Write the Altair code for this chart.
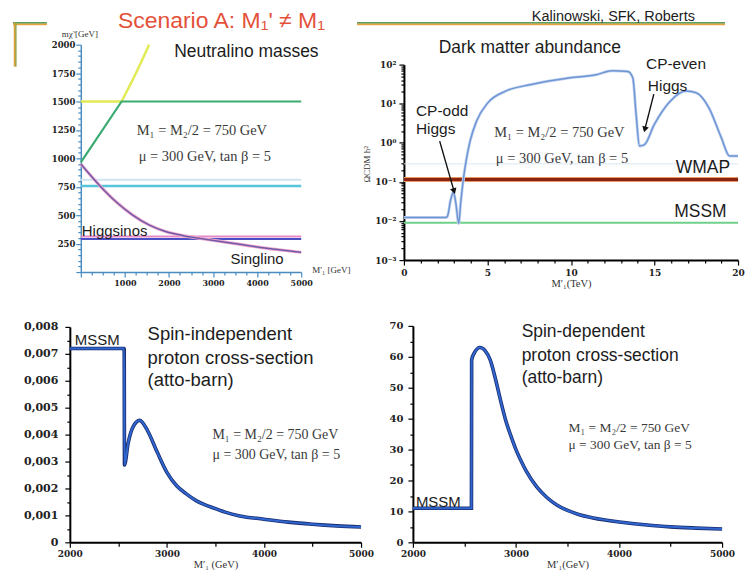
import altair as alt
import pandas as pd

# ---------------- data ----------------
# Panel 1: neutralino masses (GeV) vs M1' (GeV)
green_x = [0, 925, 5000]
green_y = [965, 1500, 1500]
yellow_x = [0, 925, 1150, 1350, 1550]
yellow_y = [1500, 1500, 1670, 1830, 2000]
cyan_x = [0, 5000]
cyan_y = [757, 757]
pale_x = [0, 5000]
pale_y = [812, 812]
hlow_x = [0, 5000]
hlow_y = [290, 290]
hhigh_x = [0, 5000]
hhigh_y = [312, 312]
singlino_x = [0, 415, 792, 1169, 1546, 1923, 2300, 2677, 3431, 4186, 4940, 5000]
singlino_y = [950, 766, 620, 503, 415, 357, 322, 298, 254, 211, 176, 173]

# Panel 2: dark matter abundance vs M1' (TeV)
dm_x = [0, 2.5, 2.6, 2.8, 2.96, 3.1, 3.28, 3.4, 3.57, 3.75, 3.96, 4.35, 5.02, 6.09, 7.63,
        9.95, 11.5, 12.46, 13.4, 13.7, 13.9, 14.1, 14.4, 14.98, 15.94, 16.9, 17.5, 18.26,
        19.0, 19.5, 20.0]
dm_y = [0.0122, 0.0122, 0.013, 0.035, 0.055, 0.03, 0.0086, 0.03, 0.129, 0.4, 1.1, 3.6, 10.5,
        21, 31, 46, 55, 70, 67, 46, 5.3, 0.83, 0.9, 2.9, 11.6, 21, 19, 7.8, 1.35, 0.46, 0.46]
wmap_x = [0, 20]
wmap_y = [0.115, 0.115]
mssm_x = [0, 20]
mssm_y = [0.009, 0.009]
faint_x = [0, 20]
faint_y = [0.29, 0.29]

# Panel 3: spin-independent cross-section vs M1' (GeV)
si_x = [2000, 2560, 2563, 2600, 2650, 2720, 2800, 2900, 3000, 3100, 3200, 3300, 3400, 3500,
        3600, 3750, 4000, 4250, 4500, 4750, 5000]
si_y = [0.0072, 0.0072, 0.00287, 0.00367, 0.00428, 0.00453, 0.00415, 0.00335, 0.0026, 0.0021,
        0.0018, 0.00155, 0.00138, 0.00125, 0.00112, 0.00098, 0.00086, 0.00075, 0.00067,
        0.00061, 0.00057]

# Panel 4: spin-dependent cross-section vs M1' (GeV)
sd_x = [2000, 2568, 2570, 2600, 2650, 2700, 2750, 2800, 2850, 2900, 2950, 3000, 3050, 3100,
        3200, 3300, 3400, 3500, 3600, 3750, 4000, 4250, 4500, 4750, 5000]
sd_y = [11, 11, 59, 61.5, 63, 62, 59, 53, 46, 39.5, 34.5, 30, 26.3, 23, 18, 14.5, 12, 10.3,
        9.1, 7.9, 6.6, 5.7, 5.0, 4.6, 4.3]

FORMULA_1 = "M\u2081 = M\u2082/2 = 750 GeV"
FORMULA_2 = "\u03bc = 300 GeV, tan \u03b2 = 5"

# ---------------- styling helpers ----------------
TICK_FONT = "DejaVu Serif"
SANS = "Liberation Sans"
SERIF = "Liberation Serif"
TXT = "#1c1c1c"


def df_xy(xs, ys):
    return pd.DataFrame({"x": xs, "y": ys, "i": list(range(len(xs)))})


def one(text=""):
    return pd.DataFrame({"t": [text]})


class Panel:
    def __init__(self, xs, ys, xax, yax):
        self.xs, self.ys, self.xax, self.yax = xs, ys, xax, yax

    def X(self, f="x"):
        return alt.X(f + ":Q", scale=self.xs, axis=self.xax)

    def Y(self, f="y"):
        return alt.Y(f + ":Q", scale=self.ys, axis=self.yax)

    def line(self, xs, ys, color, width, opacity=1.0, interp="linear"):
        return alt.Chart(df_xy(xs, ys)).mark_line(
            color=color, strokeWidth=width, opacity=opacity, clip=False, interpolate=interp
        ).encode(x=self.X(), y=self.Y(), order="i:Q")

    def text(self, rows, size, font=SANS, color=TXT, align="left", style="normal"):
        df = pd.DataFrame(rows, columns=["x", "y", "t"])
        return alt.Chart(df).mark_text(
            font=font, fontSize=size, color=color, align=align, baseline="middle",
            fontStyle=style,
        ).encode(x=self.X(), y=self.Y(), text="t:N")


def px_text(t, x, y, size, font=SANS, color=TXT, align="left", baseline="middle",
            angle=0, weight="normal"):
    return alt.Chart(one(t)).mark_text(
        font=font, fontSize=size, color=color, align=align, baseline=baseline,
        angle=angle, fontWeight=weight,
    ).encode(x=alt.value(x), y=alt.value(y), text="t:N")


def px_hrule(x1, x2, y, color, width):
    return alt.Chart(one()).mark_rule(color=color, strokeWidth=width).encode(
        x=alt.value(x1), x2=alt.value(x2), y=alt.value(y))


def px_vrule(x, y1, y2, color, width):
    return alt.Chart(one()).mark_rule(color=color, strokeWidth=width).encode(
        x=alt.value(x), y=alt.value(y1), y2=alt.value(y2))


def axis(values, label_expr, major_test, color="#000000", dwidth=2, size=9, title=None,
         major=5, minor=3, offset=0, pad=1):
    kw = dict(
        values=values, labelExpr=label_expr,
        tickSize={"condition": {"test": major_test, "value": major}, "value": minor},
        domainColor=color, domainWidth=dwidth, tickColor=color, tickWidth=1.2,
        labelFont=TICK_FONT, labelFontSize=size, labelFontWeight="bold", labelColor="#222222",
        labelPadding=pad, labelOverlap=False, labelFlush=False, grid=False, offset=offset,
    )
    if title is None:
        kw["title"] = None
    else:
        kw.update(title=title, titleFont=SERIF, titleFontSize=10.5, titleFontWeight="normal",
                  titleColor="#333333", titlePadding=1)
    return alt.Axis(**kw)


HEAD_Y = 13  # cell y of the decorative header line
P1_SHIFT = 11  # panel-1 plot starts this far right of its cell

# ---------------- panel 1: neutralino masses ----------------
AX1 = "#4a8cc0"
p1 = Panel(
    alt.Scale(domain=[0, 5000], range=[P1_SHIFT, P1_SHIFT + 221], nice=False, zero=False),
    alt.Scale(domain=[0, 2000], range=[263, 35], nice=False, zero=False),
    axis(list(range(0, 5001, 250)),
         "datum.value % 1000 === 0 && datum.value > 0 ? '' + datum.value : ''",
         "datum.value % 1000 === 0", color=AX1, dwidth=1.5, size=8, pad=2),
    axis(list(range(0, 2001, 50)),
         "datum.value % 250 === 0 && datum.value > 0 ? '' + datum.value : ''",
         "datum.value % 250 === 0", color=AX1, dwidth=1.5, size=8.5, offset=-P1_SHIFT),
)
s = P1_SHIFT
panel1 = alt.layer(
    p1.line(pale_x, pale_y, "#cfe5f1", 2),
    p1.line(cyan_x, cyan_y, "#55c5dc", 2.5),
    p1.line(yellow_x, yellow_y, "#e2ea55", 2.5),
    p1.line(green_x, green_y, "#3aab70", 2.2),
    p1.line(hhigh_x, hhigh_y, "#e48ac8", 2),
    p1.line(hlow_x, hlow_y, "#4b4fc4", 2),
    p1.line(singlino_x, singlino_y, "#f3aacd", 3.2, interp="monotone"),
    p1.line(singlino_x, singlino_y, "#6e5aa8", 1.5, interp="monotone"),
    p1.text([[3756, 1939, "Neutralino masses"]], 17.5, align="center"),
    p1.text([[1267, 1237, FORMULA_1], [1312, 1009, FORMULA_2]], 14.5, font=SERIF,
            color="#3a3a3a"),
    p1.text([[23, 360, "Higgsinos"], [3394, 114, "Singlino"]], 15),
    # slide header (decoration lines, title)
    px_hrule(s - 68, s - 34, HEAD_Y + 1.5, "#e7a53e", 2),
    px_hrule(s - 68, s - 34, HEAD_Y, "#5f9e63", 1.6),
    px_vrule(s - 66, HEAD_Y, 57, "#d9a33c", 2.5),
    px_vrule(s - 65, HEAD_Y, 57, "#7aa65a", 1),
    px_text("Scenario A: M\u2081' \u2260 M\u2081", s + 141, 0, 23, color="#e4513a",
            align="center", baseline="top"),
    # axis titles written at the axis ends
    px_text("m\u03c7\u0303 [GeV]", s - 19, 24, 9, font=SERIF, color="#333333"),
    px_text("M\u2032\u2081 [GeV]", s + 232, 261, 9, font=SERIF, color="#333333"),
).properties(width=335, height=263)

# ---------------- panel 2: dark matter abundance ----------------
dec = "round(log(datum.value)/LN10)"
is_dec = f"abs(log(datum.value)/LN10 - {dec}) < 0.001"
log_label = (f"{is_dec} ? ({dec} == 2 ? '10\u00b2' : {dec} == 1 ? '10\u00b9' : "
             f"{dec} == 0 ? '10\u2070' : {dec} == -1 ? '10\u207b\u00b9' : "
             f"{dec} == -2 ? '10\u207b\u00b2' : '10\u207b\u00b3') : ''")
yvals2 = [m * 10.0 ** d for d in range(-3, 2) for m in range(1, 10)] + [100.0]
p2 = Panel(
    alt.Scale(domain=[0, 20], range=[0, 335], nice=False, zero=False),
    alt.Scale(type="log", domain=[0.001, 100], range=[251, 55], nice=False),
    axis(list(range(0, 21)), "datum.value % 5 === 0 ? '' + datum.value : ''",
         "datum.value % 5 === 0", size=9, title="M\u2032\u2081(TeV)", pad=3),
    axis(yvals2, log_label, is_dec, size=9, pad=3),
)
arrows = pd.DataFrame({
    "x": [2.14, 14.96], "y": [1.1, 17.5], "x2": [3.0, 14.42], "y2": [0.058, 2.2],
    "ang": [163, 195],
})
panel2 = alt.layer(
    p2.line(faint_x, faint_y, "#dbe7ef", 1),
    p2.line(mssm_x, mssm_y, "#6fd08a", 2),
    p2.line(wmap_x, wmap_y, "#e89a62", 5),
    p2.line(wmap_x, wmap_y, "#8a2412", 2.8),
    p2.line(dm_x, dm_y, "#c5d6f0", 3, interp="monotone"),
    p2.line(dm_x, dm_y, "#6f95d4", 1.5, interp="monotone"),
    alt.Chart(arrows).mark_rule(color="#111111", strokeWidth=1.4).encode(
        x=p2.X(), y=p2.Y(), x2="x2:Q", y2="y2:Q"),
    alt.Chart(arrows).mark_point(shape="triangle-up", filled=True, size=45, color="#111111",
                                 opacity=1).encode(
        x=p2.X("x2"), y=p2.Y("y2"), angle=alt.Angle("ang:Q", scale=None)),
    p2.text([[7.54, 263, "Dark matter abundance"]], 17.5, align="center"),
    p2.text([[0.72, 6.44, "CP-odd"], [0.72, 2.23, "Higgs"],
             [14.49, 102, "CP-even"], [14.6, 28, "Higgs"]], 15.5),
    p2.text([[5.4, 1.76, FORMULA_1], [5.5, 0.38, FORMULA_2]], 14.5, font=SERIF,
            color="#3a3a3a"),
    p2.text([[17.9, 0.226, "WMAP"], [17.75, 0.0165, "MSSM"]], 17.5, align="center"),
    px_text("\u03a9CDM h\u00b2", -37, 155, 9, font=SERIF, color="#333333", align="center",
            angle=270),
    # slide header (decoration line, authors)
    px_hrule(-47, 322, HEAD_Y + 1.5, "#e7a53e", 2),
    px_hrule(-47, 322, HEAD_Y, "#5f9e63", 1.6),
    px_text("Kalinowski, SFK, Roberts", 210, 0, 14.5, align="center", baseline="top"),
).properties(width=335, height=251)

# ---------------- panel 3: spin-independent ----------------
ROW2_H = 271
yvals3 = [round(k * 0.0005, 4) for k in range(17)]
si_major = "abs(datum.value*1000 - round(datum.value*1000)) < 0.000001"
p3 = Panel(
    alt.Scale(domain=[2000, 5000], range=[0, 292], nice=False, zero=False),
    alt.Scale(domain=[0, 0.008], range=[ROW2_H, 55], nice=False, zero=False),
    axis(list(range(2000, 5001, 500)), "datum.value % 1000 === 0 ? '' + datum.value : ''",
         "datum.value % 1000 === 0", size=9, title="M\u2032\u2081 (GeV)", major=5, minor=4,
         pad=2),
    axis(yvals3,
         f"{si_major} ? (datum.value === 0 ? '0' : replace(format(datum.value, '.3f'), '.', ',')) : ''",
         si_major, size=11, pad=7),
)
panel3 = alt.layer(
    p3.line(si_x, si_y, "#1b2d6e", 3.6, interp="monotone"),
    p3.line(si_x, si_y, "#2f66d0", 2, interp="monotone"),
    p3.text([[2801, 0.00774, "Spin-independent"], [2801, 0.00686, "proton cross-section"],
             [2801, 0.00601, "(atto-barn)"]], 18.5),
    p3.text([[2051, 0.00752, "MSSM"]], 15),
    p3.text([[3469, 0.00398, FORMULA_1], [3469, 0.00324, FORMULA_2]], 14, font=SERIF,
            color="#3a3a3a"),
).properties(width=335, height=ROW2_H)

# ---------------- panel 4: spin-dependent ----------------
P4_SHIFT = 9
p4 = Panel(
    alt.Scale(domain=[2000, 5000], range=[P4_SHIFT, P4_SHIFT + 310], nice=False, zero=False),
    alt.Scale(domain=[0, 70], range=[ROW2_H, 54], nice=False, zero=False),
    axis(list(range(2000, 5001, 500)), "datum.value % 1000 === 0 ? '' + datum.value : ''",
         "datum.value % 1000 === 0", size=9, title="M\u2032\u2081(GeV)", major=5, minor=4,
         pad=2),
    axis(list(range(0, 71, 5)), "datum.value % 10 === 0 ? '' + datum.value : ''",
         "datum.value % 10 === 0", size=10, offset=-P4_SHIFT, pad=5),
)
panel4 = alt.layer(
    p4.line(sd_x, sd_y, "#1b2d6e", 3.6, interp="monotone"),
    p4.line(sd_x, sd_y, "#2f66d0", 2, interp="monotone"),
    p4.text([[3055, 68.1, "Spin-dependent"], [3055, 60.4, "proton cross-section"],
             [3055, 53.0, "(atto-barn)"]], 17.5),
    p4.text([[2029, 12.9, "MSSM"]], 15),
    p4.text([[3510, 36.9, FORMULA_1], [3510, 31.5, FORMULA_2]], 13.5, font=SERIF,
            color="#3a3a3a"),
).properties(width=335, height=ROW2_H)


def spacer(w, h):
    return alt.Chart(one()).mark_point(opacity=0, size=1).encode(
        x=alt.value(w / 2), y=alt.value(h / 2)).properties(width=w, height=h)


chart = alt.concat(
    spacer(62, 10), panel1, panel2,
    spacer(62, 10), panel3, panel4,
    columns=3, spacing=0, bounds="flush", align="each",
).properties(padding=0, background="white").configure_view(strokeWidth=0)

chart.save("out.html", embed_options={"renderer": "svg", "actions": False})
